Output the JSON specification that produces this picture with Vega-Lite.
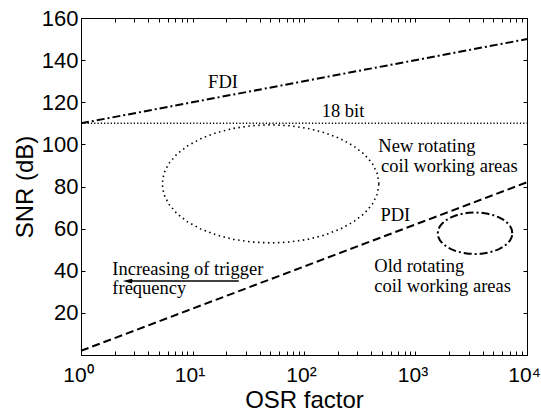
{
  "$schema": "https://vega.github.io/schema/vega-lite/v6.json",
  "width": 446,
  "height": 337,
  "autosize": "none",
  "padding": {"left": 81, "top": 18, "right": 14, "bottom": 59},
  "background": "white",
  "config": {
    "view": {"stroke": "#000", "strokeWidth": 1},
    "axis": {
      "grid": false,
      "domainColor": "#000",
      "tickColor": "#000",
      "labelColor": "#000",
      "titleColor": "#000",
      "labelFont": "Liberation Sans",
      "titleFont": "Liberation Sans",
      "titleFontWeight": "normal",
      "labelFontSize": 22,
      "titleFontSize": 24,
      "tickSize": -4,
      "tickWidth": 1,
      "domainWidth": 1
    }
  },
  "datasets": {
    "fdi": [{"x": 1, "y": 110, "o": 0}, {"x": 10000, "y": 150, "o": 1}],
    "bit18": [{"x": 1, "y": 110, "o": 0}, {"x": 10000, "y": 110, "o": 1}],
    "pdi": [{"x": 1, "y": 2, "o": 0}, {"x": 10000, "y": 82, "o": 1}],
    "newArea": [
      {"x": 470, "y": 81.25, "o": 0},
      {"x": 454, "y": 86.12, "o": 1},
      {"x": 411, "y": 90.84, "o": 2},
      {"x": 348, "y": 95.28, "o": 3},
      {"x": 278, "y": 99.28, "o": 4},
      {"x": 211, "y": 102.74, "o": 5},
      {"x": 153.5, "y": 105.54, "o": 6},
      {"x": 107.7, "y": 107.61, "o": 7},
      {"x": 73.9, "y": 108.87, "o": 8},
      {"x": 50.1, "y": 109.3, "o": 9},
      {"x": 34.0, "y": 108.87, "o": 10},
      {"x": 23.3, "y": 107.61, "o": 11},
      {"x": 16.4, "y": 105.54, "o": 12},
      {"x": 11.9, "y": 102.74, "o": 13},
      {"x": 9.03, "y": 99.28, "o": 14},
      {"x": 7.22, "y": 95.28, "o": 15},
      {"x": 6.12, "y": 90.84, "o": 16},
      {"x": 5.53, "y": 86.12, "o": 17},
      {"x": 5.35, "y": 81.25, "o": 18},
      {"x": 5.53, "y": 76.38, "o": 19},
      {"x": 6.12, "y": 71.66, "o": 20},
      {"x": 7.22, "y": 67.22, "o": 21},
      {"x": 9.03, "y": 63.22, "o": 22},
      {"x": 11.9, "y": 59.76, "o": 23},
      {"x": 16.4, "y": 56.96, "o": 24},
      {"x": 23.3, "y": 54.89, "o": 25},
      {"x": 34.0, "y": 53.63, "o": 26},
      {"x": 50.1, "y": 53.2, "o": 27},
      {"x": 73.9, "y": 53.63, "o": 28},
      {"x": 107.7, "y": 54.89, "o": 29},
      {"x": 153.5, "y": 56.96, "o": 30},
      {"x": 211, "y": 59.76, "o": 31},
      {"x": 278, "y": 63.22, "o": 32},
      {"x": 348, "y": 67.22, "o": 33},
      {"x": 411, "y": 71.66, "o": 34},
      {"x": 454, "y": 76.38, "o": 35},
      {"x": 470, "y": 81.25, "o": 36}
    ],
    "oldArea": [
      {"x": 7386, "y": 57.8, "o": 0},
      {"x": 7300, "y": 59.51, "o": 1},
      {"x": 7051, "y": 61.17, "o": 2},
      {"x": 6663, "y": 62.73, "o": 3},
      {"x": 6169, "y": 64.13, "o": 4},
      {"x": 5610, "y": 65.35, "o": 5},
      {"x": 5026, "y": 66.33, "o": 6},
      {"x": 4451, "y": 67.06, "o": 7},
      {"x": 3909, "y": 67.5, "o": 8},
      {"x": 3420, "y": 67.65, "o": 9},
      {"x": 2991, "y": 67.5, "o": 10},
      {"x": 2628, "y": 67.06, "o": 11},
      {"x": 2327, "y": 66.33, "o": 12},
      {"x": 2084, "y": 65.35, "o": 13},
      {"x": 1896, "y": 64.13, "o": 14},
      {"x": 1755, "y": 62.73, "o": 15},
      {"x": 1659, "y": 61.17, "o": 16},
      {"x": 1602, "y": 59.51, "o": 17},
      {"x": 1583, "y": 57.8, "o": 18},
      {"x": 1602, "y": 56.09, "o": 19},
      {"x": 1659, "y": 54.43, "o": 20},
      {"x": 1755, "y": 52.87, "o": 21},
      {"x": 1896, "y": 51.47, "o": 22},
      {"x": 2084, "y": 50.25, "o": 23},
      {"x": 2327, "y": 49.27, "o": 24},
      {"x": 2628, "y": 48.54, "o": 25},
      {"x": 2991, "y": 48.1, "o": 26},
      {"x": 3420, "y": 47.95, "o": 27},
      {"x": 3909, "y": 48.1, "o": 28},
      {"x": 4451, "y": 48.54, "o": 29},
      {"x": 5026, "y": 49.27, "o": 30},
      {"x": 5610, "y": 50.25, "o": 31},
      {"x": 6169, "y": 51.47, "o": 32},
      {"x": 6663, "y": 52.87, "o": 33},
      {"x": 7051, "y": 54.43, "o": 34},
      {"x": 7300, "y": 56.09, "o": 35},
      {"x": 7386, "y": 57.8, "o": 36}
    ],
    "arrow": [{"x": 2.61, "x2": 26, "y": 35.1}],
    "labels": [
      {"x": 13.8, "y": 127.0, "t": "FDI"},
      {"x": 144, "y": 112.8, "t": "18 bit"},
      {"x": 464, "y": 96.5, "t": "New rotating"},
      {"x": 491, "y": 87.0, "t": "coil working areas"},
      {"x": 485, "y": 63.5, "t": "PDI"},
      {"x": 427, "y": 39.2, "t": "Old rotating"},
      {"x": 427, "y": 30.0, "t": "coil working areas"},
      {"x": 1.91, "y": 38.0, "t": "Increasing of trigger"},
      {"x": 1.91, "y": 29.0, "t": "frequency"}
    ]
  },
  "layer": [
    {
      "encoding": {
        "x": {
          "field": "x",
          "type": "quantitative",
          "scale": {"type": "log", "domain": [1, 10000], "nice": false},
          "axis": {
            "orient": "bottom",
            "title": "OSR factor",
            "titleFontSize": 24,
            "labelFontSize": 21,
            "labelOffset": -3,
            "values": [1, 2, 3, 4, 5, 6, 7, 8, 9, 10, 20, 30, 40, 50, 60, 70, 80, 90, 100, 200, 300, 400, 500, 600, 700, 800, 900, 1000, 2000, 3000, 4000, 5000, 6000, 7000, 8000, 9000, 10000],
            "labelExpr": "datum.value == 1 ? '10⁰' : datum.value == 10 ? '10¹' : datum.value == 100 ? '10²' : datum.value == 1000 ? '10³' : datum.value == 10000 ? '10⁴' : ''",
            "labelOverlap": false,
            "labelFlush": false,
            "labelBound": false,
            "labelPadding": 13,
            "titlePadding": 3
          }
        },
        "y": {
          "field": "y",
          "type": "quantitative",
          "scale": {"domain": [0, 160], "nice": false},
          "axis": {
            "orient": "left",
            "title": "SNR (dB)",
            "values": [20, 40, 60, 80, 100, 120, 140, 160],
            "labelPadding": 7,
            "titlePadding": 4
          }
        }
      },
      "layer": [
        {"data": {"name": "fdi"}, "mark": {"type": "line", "color": "#000", "strokeWidth": 2, "strokeDash": [8, 3, 2, 3]}, "encoding": {"order": {"field": "o", "type": "quantitative"}}},
        {"data": {"name": "pdi"}, "mark": {"type": "line", "color": "#000", "strokeWidth": 2, "strokeDash": [8, 4]}, "encoding": {"order": {"field": "o", "type": "quantitative"}}},
        {"data": {"name": "newArea"}, "mark": {"type": "line", "color": "#000", "strokeWidth": 1.6, "strokeDash": [1.5, 3.5]}, "encoding": {"order": {"field": "o", "type": "quantitative"}}},
        {"data": {"name": "oldArea"}, "mark": {"type": "line", "color": "#000", "strokeWidth": 2, "strokeDash": [8, 3, 2, 3]}, "encoding": {"order": {"field": "o", "type": "quantitative"}}},
        {"data": {"name": "arrow"}, "mark": {"type": "rule", "color": "#000", "strokeWidth": 1.6}, "encoding": {"x2": {"field": "x2"}}},
        {"data": {"name": "arrow"}, "mark": {"type": "point", "shape": "M-1,0L1,-0.5L1,0.5Z", "filled": true, "color": "#000", "size": 90, "opacity": 1}, "encoding": {}},
        {"data": {"name": "labels"}, "mark": {"type": "text", "align": "left", "baseline": "alphabetic", "font": "Liberation Serif", "fontSize": 18.5, "color": "#000"}, "encoding": {"text": {"field": "t"}}}
      ]
    },
    {
      "data": {"name": "bit18"},
      "mark": {"type": "line", "color": "#000", "strokeWidth": 1.4, "strokeDash": [1.2, 2.1]},
      "encoding": {
        "x": {
          "field": "x",
          "type": "quantitative",
          "scale": {"type": "log", "domain": [1, 10000], "nice": false},
          "axis": {
            "orient": "top",
            "title": null,
            "labels": false,
            "values": [1, 2, 3, 4, 5, 6, 7, 8, 9, 10, 20, 30, 40, 50, 60, 70, 80, 90, 100, 200, 300, 400, 500, 600, 700, 800, 900, 1000, 2000, 3000, 4000, 5000, 6000, 7000, 8000, 9000, 10000]
          }
        },
        "y": {
          "field": "y",
          "type": "quantitative",
          "scale": {"domain": [0, 160], "nice": false},
          "axis": {"orient": "right", "title": null, "labels": false, "values": [20, 40, 60, 80, 100, 120, 140, 160]}
        },
        "order": {"field": "o", "type": "quantitative"}
      }
    }
  ],
  "resolve": {"axis": {"x": "independent", "y": "independent"}}
}
